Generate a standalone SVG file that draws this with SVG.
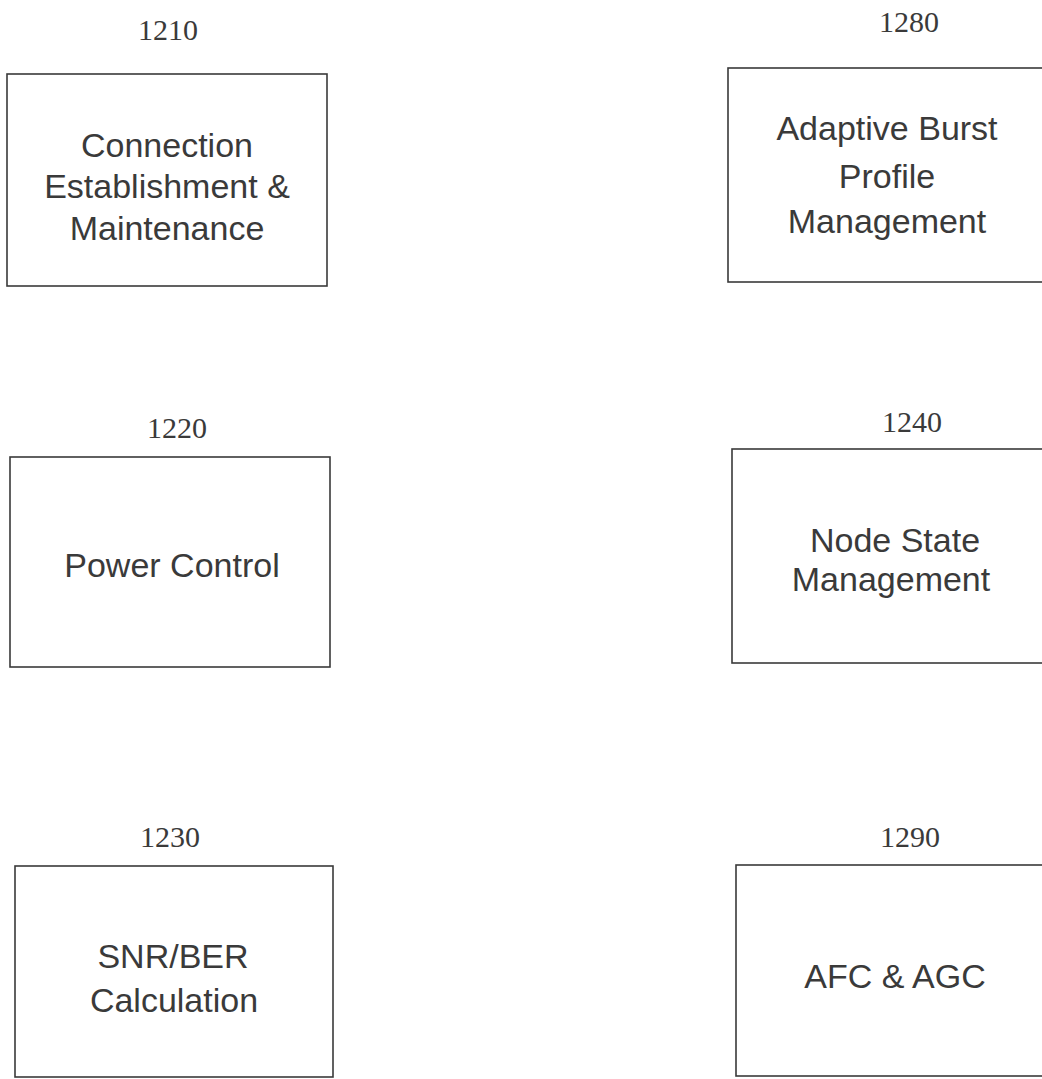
<svg xmlns="http://www.w3.org/2000/svg" width="1042" height="1079" viewBox="0 0 1042 1079">
<style>
.box{fill:none;stroke:#3a3a3a;stroke-width:1.6}
.ref{font-family:"Liberation Serif",serif;font-size:30px;fill:#3a3a3a;text-anchor:middle}
.lbl{font-family:"Liberation Sans",Arial,sans-serif;font-size:34px;fill:#3a3a3a;text-anchor:middle}
</style>
<rect width="1042" height="1079" fill="#fff"/>
<g id="connectors"></g>
<g id="n1210">
<text class="ref" x="168" y="40">1210</text>
<rect class="box" x="7" y="74" width="320" height="212"/>
<text class="lbl" x="167" y="157">Connection</text>
<text class="lbl" x="167" y="198">Establishment &amp;</text>
<text class="lbl" x="167" y="240">Maintenance</text>
</g>
<g id="n1280">
<text class="ref" x="909" y="32">1280</text>
<rect class="box" x="728" y="68" width="320" height="214"/>
<text class="lbl" x="887" y="140">Adaptive Burst</text>
<text class="lbl" x="887" y="188">Profile</text>
<text class="lbl" x="887" y="233">Management</text>
</g>
<g id="n1220">
<text class="ref" x="177" y="438">1220</text>
<rect class="box" x="10" y="457" width="320" height="210"/>
<text class="lbl" x="172" y="577">Power Control</text>
</g>
<g id="n1240">
<text class="ref" x="912" y="432">1240</text>
<rect class="box" x="732" y="449" width="316" height="214"/>
<text class="lbl" x="895" y="552">Node State</text>
<text class="lbl" x="891" y="591">Management</text>
</g>
<g id="n1230">
<text class="ref" x="170" y="847">1230</text>
<rect class="box" x="15" y="866" width="318" height="211"/>
<text class="lbl" x="173" y="968">SNR/BER</text>
<text class="lbl" x="174" y="1012">Calculation</text>
</g>
<g id="n1290">
<text class="ref" x="910" y="847">1290</text>
<rect class="box" x="736" y="865" width="312" height="211"/>
<text class="lbl" x="895" y="988">AFC &amp; AGC</text>
</g>
</svg>
